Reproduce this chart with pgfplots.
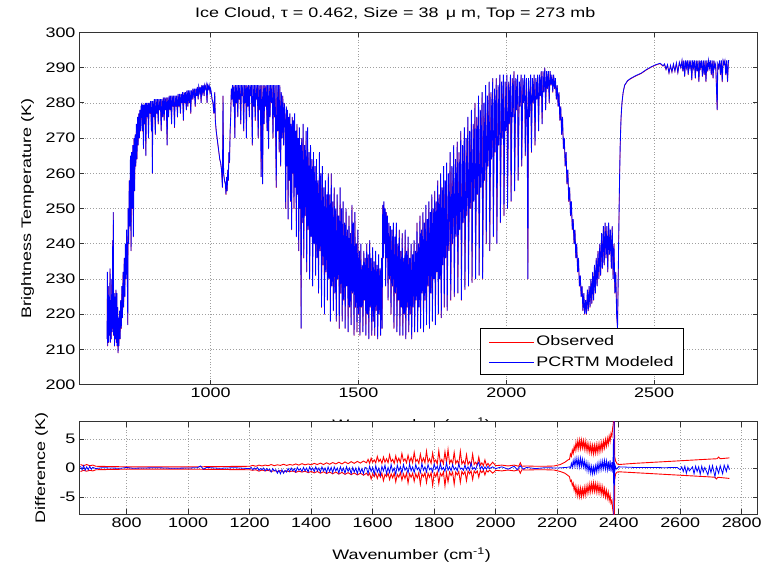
\documentclass[border=0pt]{standalone}
\usepackage{fontspec}
\setmainfont{Liberation Sans}
\newfontfamily\mfont{Liberation Sans}[FakeStretch=1.3]
\usepackage{pgfplots}
\pgfplotsset{compat=1.18}
\usepackage{pgfplotstable}
\newcommand\fs{\mfont\fontsize{13.8}{16}\selectfont}
\definecolor{axgray}{gray}{0.2}
\definecolor{mblue}{rgb}{0,0,1}
\definecolor{mred}{rgb}{1,0,0}

\pgfplotstableread{
w T
650 213
651 232
652 211
654 228
655 212
657 225
658 214
660 233
661 212
663 224
664 213
666 230
667 215
669 241
670 216
671 249
672 214
674 226
675 211
677 225
678 213
680 227
681 212
683 226
684 211
686 222
687 209
689 219
690 211
692 221
694 213
696 224
698 216
700 228
702 219
704 232
706 222
708 236
710 225
712 240
714 230
716 244
718 234
720 217
721 250
723 240
725 258
727 245
729 265
731 238
733 266
735 250
737 268
739 242
741 270
743 255
745 271
747 262
749 274
751 264
753 276
755 268
757 277
759 270
761 278
763 272
765 279
767 279.5
769 272
771 279.5
773 267
775 279.5
777 274
779 280
781 265
783 280
786 276
788 280
790 270
792 280
795 277
797 280.5
800 272
802 280.5
803 260
805 280.5
808 276
810 281
813 271
815 281
818 277
820 281
823 274
825 281
828 278
830 281
833 272
835 281
838 276
840 281.5
843 275
845 281.5
848 278
850 281.5
853 268
855 281.5
858 276
860 282
863 278
865 282
868 274
870 282
873 279
875 282
878 273
880 282
883 279
885 282
888 276
890 282.5
893 279
895 282.5
898 277
900 282.5
903 280
905 283
908 275
910 283
913 280
915 283
918 278
920 283.5
923 279
925 283.5
928 280
930 283.5
933 277
935 283.5
938 281
940 284
943 282
945 284
948 279
950 284
953 282
955 284.5
958 281
960 284.5
963 283
965 284.5
968 280
970 285
973 283
975 285
978 282
980 285
983 284
985 285
988 280
990 285
993 284
995 285
998 283
1000 284
1002 283
1005 281
1008 280
1011 277
1014 283
1016 275
1019 272
1022 270
1025 268
1028 266
1031 264
1034 263
1037 261
1040 256
1042 282
1044 260
1047 258
1050 257
1052 254
1054 259
1056 255
1058 261
1060 258
1062 266
1064 263
1066 272
1068 276
1070 284
1072 281
1074 285
1077 279
1079 285
1082 270
1084 285
1087 280
1089 285
1092 276
1094 285
1097 281
1099 285
1102 274
1104 285
1107 282
1109 285
1112 272
1114 285
1117 280
1119 285
1121 270
1123 285
1126 279
1128 285
1131 276
1133 285
1136 282
1138 285
1141 268
1143 285
1146 279
1148 285
1151 275
1153 285
1156 281
1158 285
1161 270
1163 285
1166 278
1168 285
1171 259
1173 285
1176 257
1178 285
1181 274
1183 285
1186 279
1188 285
1191 272
1193 285
1196 267
1198 285
1201 276
1203 285
1206 280
1208 285
1211 270
1213 285
1216 276
1218 285
1222 256
1224 285
1227 272
1229 285
1232 266
1234 285
1237 262
1239 283
1242 270
1244 282
1247 268
1249 280
1252 275
1254 250
1256 279
1258 262
1260 278
1262 247
1264 276
1266 258
1268 277
1270 252
1272 274
1274 244
1276 276
1278 260
1280 275
1282 250
1284 277
1286 256
1288 272
1290 242
1292 274
1294 254
1296 270
1298 238
1300 273
1302 250
1304 268
1306 216
1308 270
1310 246
1313 274
1315 236
1318 268
1320 248
1323 272
1325 232
1328 273
1330 244
1333 266
1335 230
1338 268
1340 242
1343 264
1345 228
1348 266
1350 240
1353 262
1355 231
1358 264
1360 236
1363 258
1365 226
1368 266
1370 238
1373 260
1375 222
1378 262
1380 234
1383 256
1385 220
1388 258
1390 232
1393 254
1395 224
1398 260
1400 230
1403 254
1405 218
1408 260
1410 228
1413 252
1415 221
1418 256
1420 226
1423 250
1425 218
1428 254
1430 230
1433 248
1435 216
1438 256
1440 226
1443 250
1445 218
1448 252
1450 224
1453 246
1455 216
1458 250
1460 228
1463 244
1465 215
1468 248
1470 222
1473 243
1475 217
1478 251
1480 226
1483 246
1485 214
1488 249
1490 222
1493 240
1495 215
1498 244
1500 220
1503 238
1505 214
1508 240
1510 222
1513 234
1515 215
1518 238
1520 224
1523 236
1525 214
1528 240
1530 220
1533 237
1535 213
1538 241
1540 222
1543 236
1545 214
1548 239
1550 218
1553 235
1555 214
1558 238
1560 221
1563 234
1565 213
1568 237
1570 220
1573 233
1575 214
1578 236
1580 216
1582 251
1584 236
1586 252
1588 240
1590 250
1592 228
1594 249
1596 236
1598 248
1600 224
1603 246
1605 230
1608 245
1610 220
1613 244
1615 228
1618 246
1620 216
1623 242
1625 226
1628 246
1630 215
1633 240
1635 224
1638 244
1640 214
1643 238
1645 222
1648 243
1650 214
1653 236
1655 220
1658 244
1660 213
1663 238
1665 222
1668 242
1670 215
1673 236
1675 220
1678 240
1680 213
1683 237
1685 222
1688 241
1690 215
1693 238
1695 224
1698 246
1700 215
1703 240
1705 222
1708 248
1710 216
1713 244
1715 226
1718 249
1720 215
1723 246
1725 224
1728 251
1730 217
1733 247
1735 228
1738 252
1740 216
1743 249
1745 226
1748 254
1750 218
1753 250
1755 230
1758 255
1760 217
1763 252
1765 232
1768 258
1770 220
1773 254
1775 230
1778 260
1780 219
1783 256
1785 234
1788 262
1790 222
1793 258
1795 236
1798 263
1800 221
1804 260
1806 238
1810 266
1812 224
1816 262
1818 240
1822 268
1824 225
1828 264
1830 242
1834 269
1836 226
1840 266
1842 244
1846 272
1848 224
1852 268
1854 246
1858 273
1860 227
1864 270
1866 248
1870 276
1872 228
1876 272
1878 250
1882 278
1884 229
1888 274
1890 252
1894 280
1896 230
1900 276
1902 254
1906 282
1908 231
1912 278
1914 256
1918 283
1920 230
1924 280
1926 258
1930 285
1932 240
1936 282
1938 262
1942 286
1944 238
1948 283
1950 264
1954 287
1956 242
1960 284
1962 266
1966 287
1968 240
1972 285
1974 268
1978 288
1980 246
1984 286
1986 270
1990 288
1992 248
1996 286
1998 272
2002 288
2004 250
2008 286
2010 274
2014 288
2016 252
2020 287
2022 276
2026 289
2028 255
2032 287
2034 278
2038 288
2040 258
2044 286
2046 279
2050 288
2052 262
2056 287
2058 280
2062 288
2064 265
2068 287
2070 281
2073 230
2075 287
2078 276
2082 288
2085 266
2088 287
2091 280
2094 288
2097 268
2100 287
2103 281
2106 288
2109 272
2112 288
2115 282
2118 289
2121 274
2124 289
2127 283
2130 290
2133 278
2136 289
2139 284
2142 289
2145 280
2148 289
2151 285
2154 288
2157 283
2160 288
2163 284
2166 287
2169 281
2172 285
2175 279
2178 283
2181 275
2184 279
2187 271
2190 276
2193 267
2196 270
2199 262
2202 266
2205 257
2208 261
2211 252
2214 256
2217 248
2220 252
2223 244
2226 247
2229 240
2232 244
2235 236
2238 240
2241 232
2244 236
2247 228
2250 231
2253 225
2256 228
2259 221
2262 226
2265 220
2268 224
2271 220
2274 227
2277 221
2280 228
2283 222
2286 230
2289 223
2292 232
2295 224
2298 234
2301 226
2304 236
2307 228
2310 238
2313 230
2316 240
2319 231
2322 243
2325 233
2328 245
2331 234
2334 246
2337 236
2340 245
2343 232
2346 246
2349 237
2352 244
2355 233
2358 245
2361 230
2364 240
2367 226
2370 232
2373 220
2376 216
2379 235
2382 254
2385 268
2388 276
2391 280
2395 283
2400 285
2410 286.3
2422 287
2440 287.8
2456 288.4
2475 289.5
2490 290.2
2505 290.8
2520 291.2
2530 290.5
2535 291
2540 289.5
2545 290.8
2550 288.5
2555 290.6
2560 288.8
2565 291
2570 289
2575 291.3
2580 288.6
2585 291.5
2590 290
2594 292
2597 289
2600 292
2603 287.5
2606 292
2609 290
2612 292
2615 288
2618 292
2621 290
2624 292
2627 286.5
2630 292
2633 290
2636 292
2639 287
2642 292
2645 289
2648 292
2651 286
2654 292
2657 290
2660 292
2663 287.5
2666 292
2669 288
2672 292
2675 286
2678 292
2681 289
2684 292
2687 290
2690 292
2693 288
2696 292
2699 287
2702 292
2705 290
2708 291
2711 283
2713 278
2715 291
2718 290
2721 292
2724 288
2727 292
2730 286
2733 292
2736 291
2739 292
2742 288
2745 292
2748 286
2751 292
2753 292
}\spec

\pgfplotstableread{
w d
650 0.6
660 0.4
670 0.6
680 0.4
690 0.5
700 0.3
750 0.25
800 0.2
900 0.2
1000 0.2
1100 0.25
1200 0.3
1210 0.45
1220 0.3
1230 0.5
1240 0.35
1250 0.5
1260 0.4
1270 0.6
1280 0.4
1290 0.55
1300 0.45
1310 0.65
1320 0.45
1330 0.6
1340 0.5
1350 0.7
1360 0.5
1370 0.75
1380 0.55
1390 0.7
1400 0.55
1410 0.8
1420 0.6
1430 0.85
1440 0.6
1450 0.9
1460 0.65
1470 0.95
1480 0.7
1490 1.0
1500 0.7
1510 1.05
1520 0.75
1530 1.1
1540 0.8
1550 1.15
1560 0.85
1570 1.2
1580 0.9
1585 1.5
1590 0.8
1595 1.7
1600 1.0
1605 1.4
1610 0.9
1615 2.0
1620 1.1
1625 1.5
1630 0.8
1635 1.9
1640 1.0
1645 1.6
1650 0.9
1655 2.3
1660 1.1
1665 1.5
1670 0.8
1675 2.1
1680 1.0
1685 1.7
1690 0.9
1695 2.5
1700 1.2
1705 1.6
1710 0.9
1715 2.2
1720 1.0
1725 1.8
1730 0.9
1735 2.7
1740 1.1
1745 1.5
1750 0.8
1755 2.4
1760 1.0
1765 1.7
1770 0.9
1775 2.9
1780 1.0
1785 1.6
1790 0.8
1795 2.6
1800 1.0
1805 1.4
1810 0.7
1815 3.0
1820 0.9
1825 1.5
1830 0.7
1835 2.8
1840 0.9
1845 3.2
1850 0.8
1855 1.4
1860 0.7
1865 2.7
1870 0.8
1875 1.3
1880 0.6
1885 2.9
1890 0.7
1895 1.2
1900 0.6
1905 2.3
1910 0.6
1915 1.1
1920 0.5
1925 2.4
1930 0.6
1935 1.0
1940 0.5
1945 1.9
1950 0.5
1955 0.9
1960 0.4
1965 1.4
1970 0.4
1975 0.8
1980 0.35
1990 1.0
2000 0.4
2020 0.5
2040 0.35
2060 0.5
2075 0.3
2080 0.9
2085 0.3
2100 0.35
2130 0.3
2160 0.3
2190 0.35
2210 0.6
2225 1.0
2235 1.4
2240 1.5
2243 2.4
2246 2.0
2249 3.1
2252 2.5
2255 3.7
2258 3.0
2261 4.4
2264 3.3
2267 4.7
2270 3.4
2273 4.8
2276 3.4
2279 4.8
2282 3.5
2285 4.7
2288 3.3
2291 4.6
2294 3.1
2297 4.3
2300 2.9
2303 4.1
2306 2.7
2309 4.0
2312 2.6
2315 3.9
2318 2.5
2321 3.9
2324 2.6
2327 4.0
2330 2.7
2333 4.1
2336 2.8
2339 4.2
2342 3.0
2345 4.4
2348 3.2
2351 4.6
2354 3.5
2357 4.9
2360 3.8
2363 5.1
2366 4.1
2369 5.5
2372 4.6
2375 6.0
2378 5.5
2380 6.8
2382 7.5
2384 9
2386 9
2387 2
2390 1.2
2395 0.7
2400 0.6
2450 0.8
2500 0.95
2550 1.1
2600 1.25
2650 1.4
2700 1.55
2720 1.6
2725 1.9
2730 1.6
2760 1.75
}\redup

\pgfplotstableread{
w d
650 -0.6
660 -0.4
670 -0.55
680 -0.4
690 -0.5
700 -0.3
750 -0.25
800 -0.2
900 -0.2
1000 -0.2
1100 -0.25
1200 -0.3
1210 -0.4
1220 -0.3
1230 -0.55
1240 -0.35
1250 -0.5
1260 -0.4
1270 -0.6
1280 -0.45
1290 -0.6
1300 -0.45
1310 -0.7
1320 -0.5
1330 -0.65
1340 -0.5
1350 -0.75
1360 -0.55
1370 -0.7
1380 -0.55
1390 -0.8
1400 -0.6
1410 -0.85
1420 -0.6
1430 -0.9
1440 -0.65
1450 -0.95
1460 -0.7
1470 -1.0
1480 -0.7
1490 -1.05
1500 -0.75
1510 -1.1
1520 -0.8
1530 -1.15
1540 -0.85
1550 -1.2
1560 -0.9
1570 -1.25
1580 -0.9
1585 -1.3
1590 -0.9
1595 -1.9
1600 -1.0
1605 -1.5
1610 -0.9
1615 -1.8
1620 -1.0
1625 -1.6
1630 -0.9
1635 -2.2
1640 -1.1
1645 -1.5
1650 -0.9
1655 -2.0
1660 -1.0
1665 -1.7
1670 -0.9
1675 -2.4
1680 -1.1
1685 -1.6
1690 -0.8
1695 -2.1
1700 -1.0
1705 -1.8
1710 -0.9
1715 -2.6
1720 -1.0
1725 -1.6
1730 -0.9
1735 -2.3
1740 -1.0
1745 -1.7
1750 -0.8
1755 -2.8
1760 -1.0
1765 -1.5
1770 -0.8
1775 -2.5
1780 -0.9
1785 -1.6
1790 -0.8
1795 -3.0
1800 -0.9
1805 -1.5
1810 -0.7
1815 -2.7
1820 -0.9
1825 -1.4
1830 -0.7
1835 -3.1
1840 -0.8
1845 -2.4
1850 -0.7
1855 -1.3
1860 -0.7
1865 -2.8
1870 -0.7
1875 -1.2
1880 -0.6
1885 -2.5
1890 -0.6
1895 -1.1
1900 -0.6
1905 -2.2
1910 -0.5
1915 -1.0
1920 -0.5
1925 -2.0
1930 -0.5
1935 -0.9
1940 -0.5
1945 -1.6
1950 -0.4
1955 -0.8
1960 -0.4
1965 -1.2
1970 -0.4
1975 -0.7
1980 -0.35
1990 -0.9
2000 -0.4
2020 -0.5
2040 -0.35
2060 -0.5
2075 -0.3
2080 -0.9
2085 -0.3
2100 -0.35
2130 -0.3
2160 -0.3
2190 -0.35
2210 -0.6
2225 -0.9
2235 -1.3
2240 -1.5
2243 -2.3
2246 -2.1
2249 -3.0
2252 -2.6
2255 -3.8
2258 -3.1
2261 -4.5
2264 -3.4
2267 -4.8
2270 -3.5
2273 -4.9
2276 -3.5
2279 -4.9
2282 -3.6
2285 -4.8
2288 -3.4
2291 -4.7
2294 -3.2
2297 -4.4
2300 -3.0
2303 -4.2
2306 -2.8
2309 -4.1
2312 -2.7
2315 -4.0
2318 -2.6
2321 -4.0
2324 -2.7
2327 -4.1
2330 -2.8
2333 -4.2
2336 -2.9
2339 -4.3
2342 -3.1
2345 -4.5
2348 -3.3
2351 -4.7
2354 -3.6
2357 -5.0
2360 -3.9
2363 -5.2
2366 -4.2
2369 -5.6
2372 -4.7
2375 -6.1
2378 -5.6
2380 -6.9
2382 -7.6
2384 -9
2386 -9
2387 -2
2390 -1.0
2395 -0.7
2400 -0.65
2450 -0.8
2500 -0.95
2550 -1.1
2600 -1.25
2650 -1.4
2700 -1.55
2713 -1.6
2718 -1.9
2722 -1.6
2760 -1.8
}\redlo

\pgfplotstableread{
w d
650 0.3
655 -0.3
660 0.4
665 -0.4
670 0.2
675 -0.3
680 0.3
685 -0.2
690 0.1
700 -0.1
720 0.05
750 0.0
780 -0.05
800 0.1
820 -0.05
850 0.0
900 0.05
950 -0.05
1000 0.0
1030 0.05
1040 0.35
1050 -0.2
1060 0.1
1100 -0.05
1150 0.05
1200 -0.1
1205 0.1
1210 -0.3
1215 0.0
1220 -0.2
1225 0.1
1230 -0.4
1235 -0.1
1240 -0.3
1245 0.0
1250 -0.5
1255 -0.1
1260 -0.4
1265 -0.2
1270 -0.7
1275 -0.1
1280 -0.5
1285 -0.3
1290 -0.9
1295 -0.4
1300 -1.0
1305 -0.3
1310 -0.9
1315 -0.4
1320 -0.7
1325 -0.1
1330 -0.6
1335 0.0
1340 -0.5
1345 -0.1
1350 -0.7
1355 0.1
1360 -0.4
1365 -0.1
1370 -0.6
1375 0.1
1380 -0.5
1385 0.0
1390 -0.7
1395 0.2
1400 -0.4
1405 0.0
1410 -0.6
1415 0.2
1420 -0.5
1425 0.0
1430 -0.7
1435 0.2
1440 -0.5
1445 0.0
1450 -0.8
1455 0.2
1460 -0.6
1465 0.1
1470 -0.8
1475 0.2
1480 -0.5
1485 0.0
1490 -0.9
1495 0.2
1500 -0.6
1505 0.0
1510 -0.9
1515 0.2
1520 -0.6
1525 0.0
1530 -1.0
1535 0.1
1540 -0.7
1545 0.0
1550 -1.0
1555 0.1
1560 -0.8
1565 -0.1
1570 -1.0
1575 0.1
1580 0.0
1585 -1.0
1590 0.3
1595 -0.6
1600 0.1
1605 -1.1
1610 0.4
1615 -0.7
1620 0.0
1625 -1.2
1630 0.3
1635 -0.5
1640 0.5
1645 -1.0
1650 0.1
1655 -0.8
1660 0.6
1665 -0.6
1670 0.0
1675 -1.1
1680 0.5
1685 -0.5
1690 0.2
1695 -0.9
1700 0.6
1705 -0.4
1710 0.1
1715 -0.9
1720 0.7
1725 -0.5
1730 0.2
1735 -0.8
1740 0.6
1745 -0.3
1750 0.1
1755 -0.8
1760 0.8
1765 -0.4
1770 0.2
1775 -0.7
1780 0.6
1785 -0.3
1790 0.0
1795 -0.7
1800 0.7
1805 -0.2
1810 0.3
1815 -0.6
1820 0.8
1825 -0.3
1830 0.1
1835 -0.6
1840 0.9
1845 -0.4
1850 0.2
1855 -0.5
1860 0.6
1865 -0.3
1870 0.1
1875 -0.5
1880 0.7
1885 -0.2
1890 0.0
1895 -0.4
1900 0.5
1905 -0.3
1910 0.2
1915 -0.4
1920 0.9
1925 -0.2
1930 0.1
1935 -0.3
1940 0.6
1945 1.0
1950 -0.2
1955 0.3
1960 -0.3
1965 0.2
1970 -0.2
1975 0.3
1980 -0.1
1990 0.2
2000 -0.1
2020 0.2
2040 -0.2
2060 0.3
2070 -0.3
2080 0.4
2090 -0.2
2100 0.1
2130 -0.1
2160 0.05
2200 0.0
2230 0.1
2240 0.2
2243 0.0
2246 0.8
2249 0.1
2252 1.3
2255 0.3
2258 1.6
2261 0.4
2264 1.7
2267 0.3
2270 1.6
2273 0.2
2276 1.7
2279 0.3
2282 1.5
2285 0.2
2288 1.3
2291 -0.1
2294 1.0
2297 -0.4
2300 0.8
2303 -0.6
2306 0.5
2309 -0.9
2312 0.3
2315 -1.0
2318 0.2
2321 -0.9
2324 0.4
2327 -0.7
2330 0.7
2333 -0.5
2336 0.9
2339 -0.3
2342 1.1
2345 -0.2
2348 1.2
2351 -0.1
2354 1.3
2357 -0.2
2360 1.2
2363 -0.3
2366 1.2
2369 -0.5
2372 1.3
2375 -0.6
2378 1.0
2381 -0.8
2383 5
2384 -9
2385 9
2386 -3
2388 0.5
2392 -0.2
2400 0.2
2450 0.1
2500 0.1
2550 0.05
2590 0.1
2600 -0.3
2605 0.2
2610 -0.6
2615 0.3
2620 -0.9
2625 0.1
2630 -0.5
2640 0.2
2645 -1.0
2650 0.3
2655 -0.6
2660 0.2
2665 -1.1
2670 0.3
2675 -0.7
2680 0.1
2690 -1.2
2695 0.3
2700 -0.8
2705 0.4
2713 -1.5
2718 0.2
2725 -0.9
2730 0.4
2738 -1.0
2743 0.5
2750 -0.6
2755 0.5
2760 -0.3
}\diffblue

\pgfplotsset{
  matlab/.style={
    scale only axis,
    grid=major,
    major grid style={gray!75, line width=0.5pt, dash pattern=on 0.8pt off 2pt},
    axis line style={axgray, line width=0.7pt},
    tick style={axgray, line width=0.7pt},
    major tick length=5pt,
    tick align=inside,
    xtick pos=both, ytick pos=both,
    xticklabel pos=bottom, yticklabel pos=left,
    ticklabel style={font=\fs, text=black},
    label style={font=\fs},
    /pgf/number format/assume math mode=true,
    /pgf/number format/1000 sep={},
    clip=true,
  },
  mlegend/.style={
    legend image code/.code={\draw[#1] (0pt,0pt) -- (45pt,0pt);},
  },
  every axis title shift=0pt,
}

\begin{document}
\begin{tikzpicture}[x=1pt,y=1pt]
\useasboundingbox (0,0) rectangle (767,566);
\begin{axis}[matlab, mlegend,
  at={(79pt,181.3pt)}, anchor=south west,
  width=678.7pt, height=352.4pt,
  xmin=555, xmax=2850, ymin=200, ymax=300,
  xtick={1000,1500,2000,2500},
  ytick={200,210,220,230,240,250,260,270,280,290,300},
  xlabel={Wavenumber (cm\textsuperscript{-1})},
  xlabel style={at={(axis description cs:0.49,-0.1155)}, anchor=center},
  ylabel={Brightness Temperature (K)},
  ylabel style={at={(axis description cs:-0.0759,0.5)}, anchor=center},
  title={Ice Cloud, τ = 0.462, Size = 38 \,μ m, Top = 273 mb},
  title style={at={(axis description cs:0.466,1.0534)}, anchor=center, font=\fs},
  legend style={at={(0.8914,0.0275)}, anchor=south east, draw, line width=0.6pt,
    fill=white, font=\fs, text=black, inner xsep=8pt, inner ysep=5pt, row sep=5pt,
    cells={anchor=west}},
]
\addplot[mred, line width=0.55pt, yshift=-0.45pt] table[x=w,y=T] {\spec};
\addlegendentry{Observed}
\addplot[mblue, line width=0.85pt] table[x=w,y=T] {\spec};
\addlegendentry{PCRTM Modeled}
\end{axis}
\begin{axis}[matlab,
  at={(79pt,51.7pt)}, anchor=south west,
  width=678.7pt, height=92.6pt,
  axis background/.style={fill=white},
  xmin=645, xmax=2852, ymin=-8, ymax=8,
  xtick={800,1000,1200,1400,1600,1800,2000,2200,2400,2600,2800},
  ytick={-5,0,5},
  xlabel={Wavenumber (cm\textsuperscript{-1})},
  xlabel style={at={(axis description cs:0.49,-0.4395)}, anchor=center},
  ylabel={Difference (K)},
  ylabel style={at={(axis description cs:-0.055,0.5)}, anchor=center},
]
\addplot[mred, line width=0.9pt] table[x=w,y=d] {\redup};
\addplot[mred, line width=0.9pt] table[x=w,y=d] {\redlo};
\addplot[mblue, line width=0.8pt] table[x=w,y=d] {\diffblue};
\end{axis}
\end{tikzpicture}
\end{document}
